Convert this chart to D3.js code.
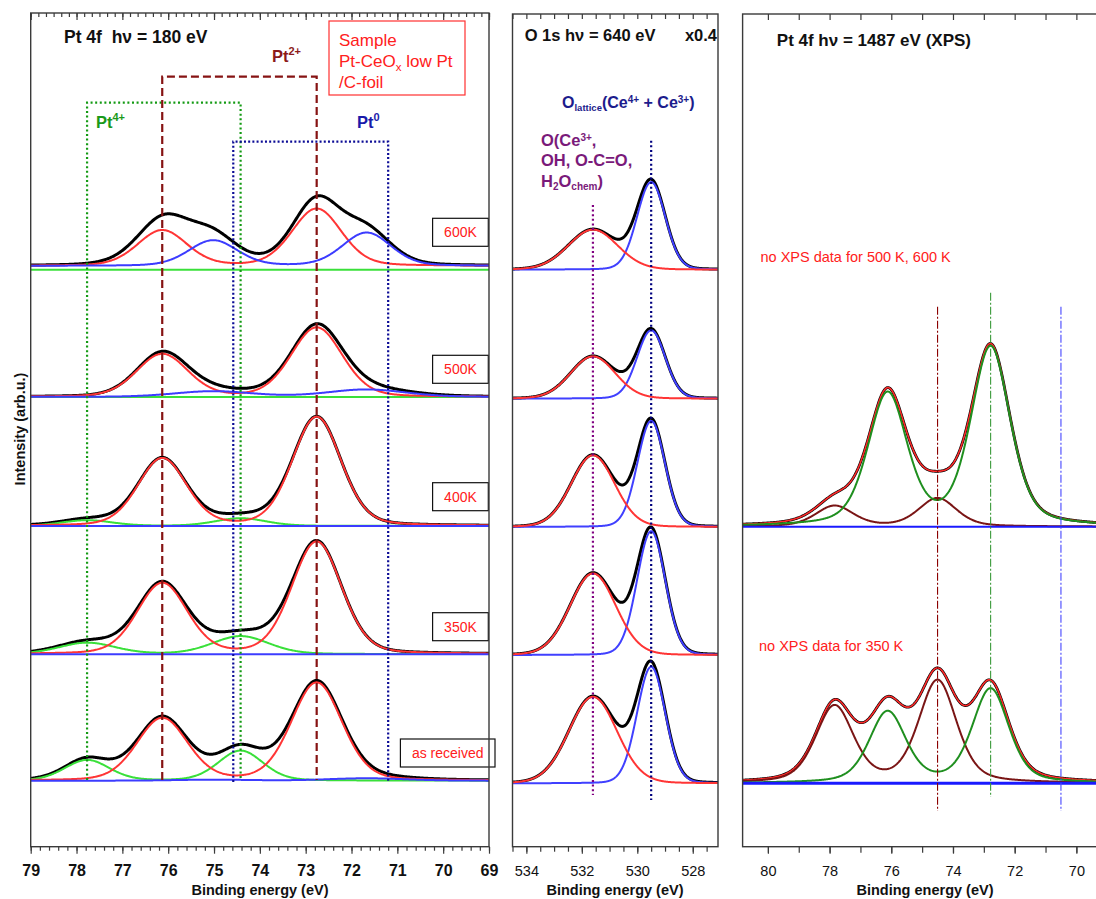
<!DOCTYPE html>
<html>
<head>
<meta charset="utf-8">
<script src="https://cdn.jsdelivr.net/npm/d3@7"></script>
<style>
  html, body { margin: 0; padding: 0; background: #fff; }
  svg { display: block; font-family: "Liberation Sans", Arial, sans-serif; }
  text { white-space: pre; }
</style>
</head>
<body>
<svg id="chart" width="1096" height="899"></svg>
<script>
// ---------------- data ----------------
// Pt 4f, hv = 180 eV (synchrotron), stacked spectra
const softRange = [79, 69];
const softTicks = [79, 78, 77, 76, 75, 74, 73, 72, 71, 70, 69];
const softLabels = ["600K", "500K", "400K", "350K", "as received"];
const softBaselines = [69.26, 53.98, 38.50, 23.11, 7.92];
const softLift = [0.45, 0, 0, 0, 0];
const softPt4Centers = [77.77, 74.42];
const softPt2Centers = [76.13, 72.76];
const softPt0Centers = [75.02, 71.67];
const softPt4Marks = [77.77, 74.42];
const softPt2Marks = [76.13, 72.76];
const softPt0Marks = [74.58, 71.20];
// peak heights per spectrum: [4f5/2, 4f7/2]
const softPt4Heights = [[0, 0], [0, 0], [0.68, 0.92], [1.36, 2.16], [2.48, 3.60]];
const softPt2Heights = [[4.26, 6.86], [5.12, 8.32], [8.08, 13.07], [8.48, 13.47], [7.48, 11.75]];
const softPt0Heights = [[3.06, 3.98], [0.68, 0.89], [0, 0], [0, 0], [0.12, 0.29]];
const softPt4Fwhm = [1.2, 1.2, 1.3, 1.45, 1.15];
const softPt2Fwhm = [1.27, 1.32, 1.25, 1.28, 1.3];
const softPt0Fwhm = [1.25, 2.0, 1.5, 1.5, 2.0];
// intensity in the measured curve not covered by the fit: [centre, height, fwhm]
const softUnfitted = [[[75.9, 1.44, 1.8], [72.8, 0.84, 1.0]], [], [], [], []];

// O 1s, hv = 640 eV
const o1sRange = [534.5, 527.09];
const o1sTicks = [534, 532, 530, 528];
const o1sBaselines = [69.26, 53.78, 38.38, 23.0, 7.6];
const oSurfaceCenter = 531.6;
const oLatticeCenter = 529.5;
const oSurfaceHeights = [4.80, 5.07, 8.60, 9.80, 10.39];
const oLatticeHeights = [10.51, 8.19, 12.72, 14.87, 13.99];
const oSurfaceFwhm = [2.1, 1.9, 1.85, 1.95, 2.05];
const oLatticeFwhm = [1.2, 1.2, 1.17, 1.2, 1.2];

// Pt 4f, hv = 1487 eV (lab XPS): 400K and as received
const xpsRange = [80.82, 68.91];
const xpsTicks = [80, 78, 76, 74, 72, 70];
const xpsBaselines = [38.41, 7.61];
const xpsPt4Centers = [77.84, 74.5];
const xpsPt2Centers = [76.12, 72.78];
const xpsPt0Mark = 70.5;
const xpsPt4Heights = [[2.48, 3.41], [9.19, 12.28]];
const xpsPt2Heights = [[15.81, 21.41], [8.52, 11.28]];
const xpsPt4Fwhm = [1.45, 1.45];
const xpsPt2Fwhm = [1.5, 1.4];

// Lorentzian fraction of the pseudo-Voigt line shape: [soft Pt 4f, O 1s, XPS Pt 4f]
const lineshapeMix = [0.2, 0.08, 0.4];

// ---------------- layout ----------------
const FONT = '"Liberation Sans", Arial, sans-serif';
const svg = d3.select("#chart");
const yTop = 13.5, yBottom = 846.7;
const y = d3.scaleLinear().domain([0, 100]).range([yBottom, yTop]);

const xSoft = d3.scaleLinear().domain(softRange).range([30.7, 489]);
const xO = d3.scaleLinear().domain(o1sRange).range([512.5, 718]);
const xXps = d3.scaleLinear().domain(xpsRange).range([742.6, 1110]);

const FRAME = "#3a3a3a";

function profile(E, centers, heights, fwhm, eta) {
  let s = 0;
  centers.forEach((c, k) => {
    const u = (E - c) / fwhm;
    const g = Math.exp(-4 * Math.LN2 * u * u);
    const l = 1 / (1 + 4 * u * u);
    s += heights[k] * (eta * l + (1 - eta) * g);
  });
  return s;
}
function energies(range, step) {
  const lo = Math.min(range[0], range[1]), hi = Math.max(range[0], range[1]);
  return d3.range(lo, hi + step / 2, step);
}
function curve(g, xs, xScale, fn, color, width) {
  const line = d3.line().x(e => xScale(e)).y(e => y(fn(e)));
  g.append("path").datum(xs).attr("d", line)
    .attr("fill", "none").attr("stroke", color)
    .attr("stroke-width", width).attr("stroke-linejoin", "round");
}
function tickRow(scale, values, yPos, len) {
  const ax = d3.axisBottom(scale).tickValues(values).tickSize(len).tickFormat("");
  const a = svg.append("g").attr("transform", `translate(0,${yPos})`).call(ax);
  a.select(".domain").remove();
  a.selectAll("line").attr("stroke", FRAME).attr("stroke-width", 1.2);
}
function labelRow(scale, values, size, weight, len, pad) {
  const ax = d3.axisBottom(scale).tickValues(values).tickSize(len).tickPadding(pad).tickFormat(d3.format("d"));
  const a = svg.append("g").attr("transform", `translate(0,${yBottom})`).call(ax);
  a.select(".domain").remove();
  a.selectAll("line").attr("stroke", FRAME).attr("stroke-width", 1.2);
  a.selectAll("text").attr("font-family", FONT).attr("font-size", size)
    .attr("font-weight", weight).attr("fill", "#111");
}
function frame(x0, x1, top) {
  svg.append("rect").attr("x", x0).attr("y", top).attr("width", x1 - x0).attr("height", yBottom - top)
    .attr("fill", "none").attr("stroke", FRAME).attr("stroke-width", 1.4);
}
function text(x, yy, str, opts = {}) {
  return svg.append("text").attr("x", x).attr("y", yy)
    .attr("font-family", FONT).attr("font-size", opts.size || 16)
    .attr("font-weight", opts.weight || "normal").attr("fill", opts.fill || "#111")
    .attr("text-anchor", opts.anchor || "start").text(str);
}

// ---------------- left panel: Pt 4f, 180 eV ----------------
const gSoft = svg.append("g");
const eSoft = energies(softRange, 0.02);
const mixSoft = lineshapeMix[0];
softLabels.forEach((lab, i) => {
  const base = softBaselines[i], lift = softLift[i];
  const p4 = e => profile(e, softPt4Centers, softPt4Heights[i], softPt4Fwhm[i], mixSoft);
  const p2 = e => profile(e, softPt2Centers, softPt2Heights[i], softPt2Fwhm[i], mixSoft);
  const p0 = e => profile(e, softPt0Centers, softPt0Heights[i], softPt0Fwhm[i], mixSoft);
  const extra = e => softUnfitted[i].reduce((s, p) => s + profile(e, [p[0]], [p[1]], p[2], mixSoft), 0);
  curve(gSoft, eSoft, xSoft, e => base + lift + p4(e) + p2(e) + p0(e) + extra(e), "#000", 3);
  curve(gSoft, eSoft, xSoft, e => base + p4(e), "#3ae03a", 2);
  curve(gSoft, eSoft, xSoft, e => base + lift + p2(e), "#ff3535", 2);
  curve(gSoft, eSoft, xSoft, e => base + lift + p0(e), "#3c3cff", 2);
});

// oxidation-state markers
function bracket(marks, topY, botY, color, dash) {
  svg.append("path")
    .attr("d", `M${xSoft(marks[0])},${botY}V${topY}H${xSoft(marks[1])}V${botY}`)
    .attr("fill", "none").attr("stroke", color).attr("stroke-width", 2.2)
    .attr("stroke-dasharray", dash);
}
bracket(softPt4Marks, 102.7, 780, "#139a13", "2,2.6");
bracket(softPt2Marks, 76.7, 780, "#861313", "8,4");
bracket(softPt0Marks, 141.7, 782, "#0c0c96", "2,2.2");

function ptLabel(x, yy, sup, color) {
  const t = text(x, yy, "Pt", { size: 16.5, weight: "bold", fill: color });
  t.append("tspan").attr("dy", -7).attr("font-size", 11).text(sup);
}
ptLabel(272, 61.5, "2+", "#8b1a1a");
ptLabel(96, 128, "4+", "#1a9a1a");
ptLabel(357, 128, "0", "#1a1aaa");

text(64, 42.5, "Pt 4f  h\u03bd = 180 eV", { size: 17.5, weight: "bold" });

// sample box
svg.append("rect").attr("x", 329).attr("y", 21).attr("width", 136).attr("height", 74)
  .attr("fill", "#fff").attr("stroke", "#ff3030").attr("stroke-width", 1.2);
text(339, 46, "Sample", { size: 17, fill: "#ff2020" });
const sLine = text(339, 67, "Pt-CeO", { size: 17, fill: "#ff2020" });
sLine.append("tspan").attr("dy", 4).attr("font-size", 11.5).text("x");
sLine.append("tspan").attr("dy", -4).text(" low Pt");
text(339, 88, "/C-foil", { size: 17, fill: "#ff2020" });

// treatment labels
const boxTops = [218.3, 355.3, 482.7, 612.7, 739];
const boxRights = [488.3, 488.3, 488.3, 488.3, 495];
softLabels.forEach((lab, i) => {
  const t = text(0, boxTops[i] + 19, lab, { size: 14, fill: "#ff2020", anchor: "middle" });
  const w = t.node().getComputedTextLength() + 23;
  t.attr("x", boxRights[i] - w / 2);
  svg.insert("rect", () => t.node())
    .attr("x", boxRights[i] - w).attr("y", boxTops[i]).attr("width", w).attr("height", 28)
    .attr("fill", "#fff").attr("stroke", "#111").attr("stroke-width", 1.2);
});

frame(30.7, 489, 13);
tickRow(xSoft, d3.range(0, 51).map(k => 79 - k * 0.2), yBottom, 4);
labelRow(xSoft, softTicks, 16, "bold", 7, 10.6);
tickRow(xSoft, d3.range(0, 61).map(k => 79 - k / 6), 13, 4);
tickRow(xSoft, softTicks, 13, 7);
text(260, 895, "Binding energy (eV)", { size: 14.5, weight: "bold", anchor: "middle" });
svg.append("text").attr("transform", "translate(25,429) rotate(-90)")
  .attr("font-family", FONT).attr("font-size", 14.5).attr("font-weight", "bold")
  .attr("text-anchor", "middle").attr("fill", "#111").text("Intensity (arb.u.)");

// ---------------- middle panel: O 1s, 640 eV ----------------
const gO = svg.append("g");
const eO = energies(o1sRange, 0.01);
const mixO = lineshapeMix[1];
o1sBaselines.forEach((base, i) => {
  const ps = e => profile(e, [oSurfaceCenter], [oSurfaceHeights[i]], oSurfaceFwhm[i], mixO);
  const pl = e => profile(e, [oLatticeCenter], [oLatticeHeights[i]], oLatticeFwhm[i], mixO);
  curve(gO, eO, xO, e => base + ps(e) + pl(e), "#000", 3);
  curve(gO, eO, xO, e => base + pl(e), "#4040ff", 2);
  curve(gO, eO, xO, e => base + ps(e), "#ff3535", 2);
});
svg.append("line").attr("x1", xO(oSurfaceCenter)).attr("x2", xO(oSurfaceCenter))
  .attr("y1", 205).attr("y2", 795).attr("stroke", "#800080").attr("stroke-width", 2.2)
  .attr("stroke-dasharray", "2,2.6");
svg.append("line").attr("x1", xO(oLatticeCenter)).attr("x2", xO(oLatticeCenter))
  .attr("y1", 140.7).attr("y2", 800).attr("stroke", "#00007f").attr("stroke-width", 2.2)
  .attr("stroke-dasharray", "2,2.6");

text(524.7, 41, "O 1s h\u03bd = 640 eV", { size: 16.5, weight: "bold" });
text(717, 41, "x0.4", { size: 16.5, weight: "bold", anchor: "end" });
const oLat = text(562, 107.5, "O", { size: 16, weight: "bold", fill: "#1c1c8c" });
oLat.append("tspan").attr("dy", 3).attr("font-size", 9.5).text("lattice");
oLat.append("tspan").attr("dy", -3).text("(Ce");
oLat.append("tspan").attr("dy", -5).attr("font-size", 10).text("4+");
oLat.append("tspan").attr("dy", 5).text(" + Ce");
oLat.append("tspan").attr("dy", -5).attr("font-size", 10).text("3+");
oLat.append("tspan").attr("dy", 5).text(")");
const PURPLE = "#7a1a7a";
const oS1 = text(541, 145.5, "O(Ce", { size: 16.5, weight: "bold", fill: PURPLE });
oS1.append("tspan").attr("dy", -5).attr("font-size", 10).text("3+");
oS1.append("tspan").attr("dy", 5).text(",");
text(541, 166, "OH, O-C=O,", { size: 16.5, weight: "bold", fill: PURPLE });
const oS3 = text(541, 186.5, "H", { size: 16.5, weight: "bold", fill: PURPLE });
oS3.append("tspan").attr("dy", 3).attr("font-size", 10).text("2");
oS3.append("tspan").attr("dy", -3).text("O");
oS3.append("tspan").attr("dy", 3).attr("font-size", 10).text("chem");
oS3.append("tspan").attr("dy", -3).text(")");

frame(512.5, 718, 14);
tickRow(xO, d3.range(0, 15).map(k => 534.5 - k * 0.5), yBottom, 5);
labelRow(xO, o1sTicks, 14.5, "normal", 7, 12);
tickRow(xO, d3.range(0, 15).map(k => 534.5 - k * 0.5), 14, 5);
text(615, 895, "Binding energy (eV)", { size: 14.5, weight: "bold", anchor: "middle" });

// ---------------- right panel: Pt 4f, XPS ----------------
const gX = svg.append("g");
const eX = energies(xpsRange, 0.02);
const mixX = lineshapeMix[2];
xpsBaselines.forEach((base, i) => {
  const p4 = e => profile(e, xpsPt4Centers, xpsPt4Heights[i], xpsPt4Fwhm[i], mixX);
  const p2 = e => profile(e, xpsPt2Centers, xpsPt2Heights[i], xpsPt2Fwhm[i], mixX);
  curve(gX, eX, xXps, e => base + p4(e) + p2(e), "#000", 2.8);
  curve(gX, eX, xXps, e => base + p4(e) + p2(e), "#ff2a2a", 1.6);
  curve(gX, eX, xXps, e => base + p4(e), "#7a1515", 2);
  curve(gX, eX, xXps, e => base + p2(e), "#1f8f1f", 2);
  curve(gX, eX, xXps, e => base, "#1a1aff", i === 0 ? 2 : 3);
});
function dashDot(e, y1, y2, color) {
  svg.append("line").attr("x1", xXps(e)).attr("x2", xXps(e)).attr("y1", y1).attr("y2", y2)
    .attr("stroke", color).attr("stroke-width", 1.1).attr("stroke-dasharray", "8,2,2,2");
}
dashDot(xpsPt4Centers[1], 306.7, 811, "#8b0000");
dashDot(xpsPt2Centers[1], 292.7, 797, "#3a9a3a");
dashDot(xpsPt0Mark, 306.7, 811, "#4646ff");

text(776.8, 45.5, "Pt 4f h\u03bd = 1487 eV (XPS)", { size: 17, weight: "bold" });
text(760.5, 261.5, "no XPS data for 500 K, 600 K", { size: 14.5, fill: "#ff2020" });
text(759, 650.5, "no XPS data for 350 K", { size: 14.5, fill: "#ff2020" });

frame(742.6, 1110, 14);
tickRow(xXps, d3.range(70, 81), yBottom, 6);
labelRow(xXps, xpsTicks, 14.5, "normal", 7, 12);
tickRow(xXps, d3.range(70, 81), 14, 6);
text(925, 895, "Binding energy (eV)", { size: 14.5, weight: "bold", anchor: "middle" });
</script>
</body>
</html>
